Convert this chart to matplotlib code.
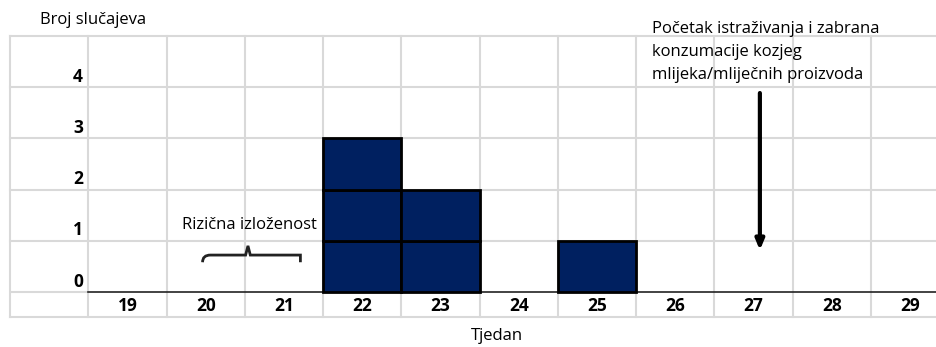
import numpy as np
import matplotlib.pyplot as plt
from matplotlib.path import Path
from matplotlib.patches import PathPatch

plt.rcParams['font.family'] = ['Open Sans', 'DejaVu Sans']

# data
weeks = [19, 20, 21, 22, 23, 24, 25, 26, 27, 28, 29]
cases = [0, 0, 0, 3, 2, 0, 1, 0, 0, 0, 0]
y_labels = [0, 1, 2, 3, 4]

fig = plt.figure(figsize=(9.36, 3.47), dpi=100)
ax = fig.add_axes([10/936, 30/347, 926/936, 281/347])
ax.set_xlim(17.5, 29.33)
ax.set_ylim(-0.49, 5.0)
ax.axis('off')

grid = '#d9d9d9'
# table grid
for x in np.arange(17.5, 29.6, 1):
    ax.plot([x, x], [-0.49, 5.0], color=grid, lw=1.5, zorder=1, clip_on=False)
for y in [-0.49, 1, 2, 3, 4, 5.0]:
    ax.plot([17.5, 29.33], [y, y], color=grid, lw=1.5, zorder=1, clip_on=False)
ax.plot([17.5, 18.5], [0, 0], color=grid, lw=1.5, zorder=1)
ax.plot([18.5, 29.33], [0, 0], color='#222222', lw=1.2, zorder=2)

# stacked unit cells
for w, n in zip(weeks, cases):
    for k in range(n):
        ax.bar(w, 1, bottom=k, width=1, color='#002060', edgecolor='black',
               linewidth=2, zorder=3)

for v in y_labels:
    ax.text(18.43, v + 0.2, str(v), ha='right', va='center', fontsize=12.5,
            fontweight='bold')
for w in weeks:
    ax.text(w, -0.27, str(w), ha='center', va='center', fontsize=12.5,
            fontweight='bold')

fig.text(40/936, 1 - 20/347, 'Broj slučajeva', ha='left', va='center', fontsize=12)
fig.text(497/936, 1 - 336/347, 'Tjedan', ha='center', va='center', fontsize=12)

# risk exposure brace
ax.text(20.56, 1.31, 'Rizična izloženost', ha='center', va='center', fontsize=12)
x0, x1, xm = 19.96, 21.21, 20.54
yb, yf, yt = 0.58, 0.72, 0.9
verts = [(x0, yb), (x0, yf), (x0 + 0.1, yf), (x0 + 0.15, yf),
         (xm - 0.1, yf), (xm - 0.03, yf), (xm - 0.03, yf), (xm, yt),
         (xm + 0.03, yf), (xm + 0.03, yf), (xm + 0.1, yf),
         (x1 - 0.15, yf), (x1 - 0.1, yf), (x1, yf), (x1, yb)]
codes = [Path.MOVETO, Path.CURVE3, Path.CURVE3, Path.LINETO,
         Path.LINETO, Path.CURVE3, Path.CURVE3, Path.LINETO,
         Path.LINETO, Path.CURVE3, Path.CURVE3,
         Path.LINETO, Path.CURVE3, Path.CURVE3, Path.LINETO]
ax.add_patch(PathPatch(Path(verts, codes), fill=False, lw=2, color='#222222', zorder=4))

# study start annotation
ax.text(25.7, 4.68, 'Početak istraživanja i zabrana\nkonzumacije kozjeg\nmlijeka/mliječnih proizvoda',
        ha='left', va='center', fontsize=12, linespacing=1.58, clip_on=False, zorder=5)
ax.annotate('', xy=(27.08, 0.76), xytext=(27.08, 3.94),
            arrowprops=dict(arrowstyle='-|>,head_width=0.25,head_length=0.6',
                            color='black', lw=3), zorder=5)

fig.savefig('out.png', dpi=100)
